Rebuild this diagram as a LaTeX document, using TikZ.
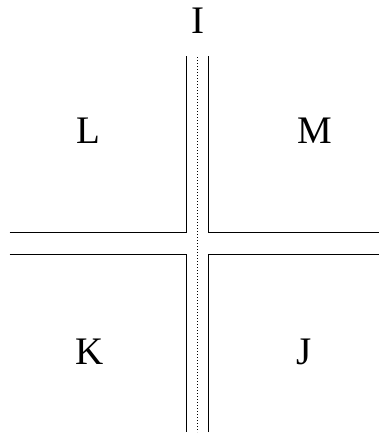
\documentclass[tikz,border=0pt]{standalone}
\usepackage{fontspec}
\setmainfont{Liberation Serif}
\begin{document}
\begin{tikzpicture}[x=1pt,y=-1pt,
  roadedge/.style={line width=0.9pt},
  centerline/.style={line width=0.6pt,dash pattern=on 0.7pt off 2.3pt},
  lbl/.style={anchor=base,inner sep=0pt,font=\fontsize{39}{44}\selectfont}]
\useasboundingbox (0,0) rectangle (380,434);
% road edges
\coordinate (tl) at (186.3,232.7);
\coordinate (tr) at (208.3,232.7);
\coordinate (bl) at (186.3,254.3);
\coordinate (br) at (208.3,254.3);
\coordinate (tlT) at (186.3,56);
\coordinate (trT) at (208.3,56);
\coordinate (tlL) at (9.5,232.7);
\coordinate (trR) at (379,232.7);
\coordinate (blL) at (9.5,254.3);
\coordinate (brR) at (379,254.3);
\coordinate (blB) at (186.3,432);
\coordinate (brB) at (208.3,432);
\draw[roadedge] (tlL) -- (tl) -- (tlT);
\draw[roadedge] (trT) -- (tr) -- (trR);
\draw[roadedge] (blL) -- (bl) -- (blB);
\draw[roadedge] (brB) -- (br) -- (brR);
% center line
\coordinate (cT) at (197,57);
\coordinate (cB) at (197,432);
\draw[centerline] (cT) -- (cB);
% labels
\node[lbl] (I) at (198,33) {I};
\node[lbl] (L) at (88,143) {L};
\node[lbl] (M) at (315,143) {M};
\node[lbl] (K) at (90,364) {K};
\node[lbl] (J) at (304.5,364) {J};
\end{tikzpicture}
\end{document}
